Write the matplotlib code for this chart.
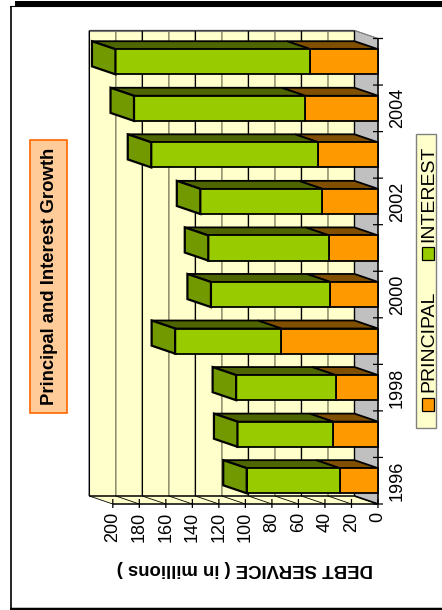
#!/usr/bin/env python
"""Debt service by year: stacked 3-D style bars, laid out sideways on the page."""

import matplotlib
matplotlib.use("Agg")
import matplotlib.pyplot as plt
from matplotlib.patches import Polygon, Rectangle

plt.rcParams["font.family"] = ["Liberation Sans", "DejaVu Sans"]

YEARS = [1996, 1997, 1998, 1999, 2000, 2001, 2002, 2003, 2004, 2005]
YEAR_LABELS = ["1996", "", "1998", "", "2000", "", "2002", "", "2004", ""]
PRINCIPAL = [29, 34, 32, 73, 36, 37, 42, 45, 55, 51]
INTEREST = [70, 72, 75, 80, 90, 91, 92, 126, 129, 147]
VALUE_TICKS = list(range(0, 201, 20))

W, H = 442, 610

# page positions of the sideways plot, in pixels
X0, PX_PER_UNIT = 378.0, 1.326
Y0, PX_PER_CAT = 504.0, 46.55
DEPTH_X, DEPTH_Y = -23.5, -8.0
BAR_WIDTH = 0.54

WALL = "#FFFFCC"
GRID = "#7F7F5F"
ORANGE, ORANGE_TOP = "#FF9900", "#805000"
GREEN, GREEN_SIDE, GREEN_TOP = "#99CC00", "#739900", "#4F6600"


def pt(value, cat, depth=0.0):
    """Page position of a value / category position / depth (0 front, 1 back)."""
    return (X0 - value * PX_PER_UNIT + depth * DEPTH_X,
            Y0 - cat * PX_PER_CAT + depth * DEPTH_Y)


def poly(ax, pts, fc="none", ec="black", lw=1.0, z=1):
    ax.add_patch(Polygon(pts, closed=True, fc=fc, ec=ec, lw=lw, zorder=z, joinstyle="miter"))


def line(ax, a, b, color="black", lw=1.0, z=2):
    ax.plot([a[0], b[0]], [a[1], b[1]], color=color, lw=lw, zorder=z,
            solid_capstyle="butt", snap=False)


fig = plt.figure(figsize=(W / 100, H / 100), dpi=100, facecolor="white")
ax = fig.add_axes([0, 0, 1, 1])
ax.set_xlim(0, W)
ax.set_ylim(H, 0)
ax.axis("off")

# page frame
ax.add_patch(Rectangle((15, 1), W - 15, 6, fc="black", ec="none", zorder=5))
line(ax, (11, 6), (11, 609), lw=1.2, z=5)
line(ax, (10, 609), (W, 609), lw=1.8, z=5)
line(ax, (10, 6.5), (W, 6.5), lw=0.8, z=5)

n = len(YEARS)
vmax = VALUE_TICKS[-1]

# back wall, floor at the value end and side wall along zero
poly(ax, [pt(0, 0, 1), pt(vmax, 0, 1), pt(vmax, n, 1), pt(0, n, 1)], fc=WALL, ec="#808080", lw=0.8)
poly(ax, [pt(0, 0, 0), pt(0, 0, 1), pt(0, n, 1), pt(0, n, 0)], fc="#C0C0C0", ec="#808080", lw=0.6)
poly(ax, [pt(0, 0, 0), pt(vmax, 0, 0), pt(vmax, 0, 1), pt(0, 0, 1)], fc=WALL, ec="none")

# gridlines on the wall and across the floor
for v in VALUE_TICKS:
    line(ax, pt(v, 0, 1), pt(v, n, 1), color=GRID if v % 40 else "black", lw=1.0)
    line(ax, pt(v, 0, 0), pt(v, 0, 1), lw=0.6)
line(ax, pt(vmax, n, 1), pt(0, n, 1), color="#404040", lw=0.9, z=3)
line(ax, pt(0, 0, 1), pt(vmax, 0, 1), lw=1.1)
line(ax, pt(0, 0, 0), pt(vmax, 0, 0), lw=1.1)
line(ax, pt(0, 0, 0), pt(0, 0, 1), lw=1.2, z=3)
line(ax, pt(0, 0, 0), pt(0, n, 0), lw=1.1, z=4)
line(ax, pt(0, n, 0), pt(0, n, 1), color="#808080", lw=0.8)

# axis ticks and labels, ticks cross the axis lines
for v in VALUE_TICKS:
    x, y = pt(v, 0)
    line(ax, (x, y - 5), (x, y + 4), lw=0.9)
    ax.text(x, y + 8, str(v), rotation=90, ha="center", va="top", fontsize=13)
for i in range(n + 1):
    x, y = pt(0, i)
    line(ax, (x - 5, y), (x + 5, y), lw=0.9, z=3)
for i, lab in enumerate(YEAR_LABELS):
    x, y = pt(0, i + 0.5)
    ax.text(x + 11, y, lab, rotation=90, ha="left", va="center", fontsize=13)

# bars, drawn segment by segment from the zero end
for i in range(n):
    lo, hi = i + 0.5 - BAR_WIDTH / 2, i + 0.5 + BAR_WIDTH / 2
    p, total = PRINCIPAL[i], PRINCIPAL[i] + INTEREST[i]
    for a, b, front, top in [(0, p, ORANGE, ORANGE_TOP), (p, total, GREEN, GREEN_TOP)]:
        poly(ax, [pt(a, hi), pt(b, hi), pt(b, hi, 1), pt(a, hi, 1)], fc=top, lw=1.3, z=6)
        poly(ax, [pt(a, lo), pt(b, lo), pt(b, hi), pt(a, hi)], fc=front, lw=1.3, z=7)
    poly(ax, [pt(total, lo), pt(total, hi), pt(total, hi, 1), pt(total, lo, 1)],
         fc=GREEN_SIDE, lw=1.6, z=7)

# value axis title, upside down below the plot
ax.text(245, 568, "DEBT SERVICE ( in millions )", rotation=180, ha="center", va="center",
        fontsize=13.4, fontweight="bold")

# title box
ax.add_patch(Rectangle((30, 139.5), 37, 273, fc="#FFCC99", ec="#FF6600", lw=1.2, zorder=3))
ax.text(50, 276, "Principal and Interest Growth", rotation=90, ha="center", va="center",
        fontsize=13.3, fontweight="bold", zorder=4)

# legend box
ax.add_patch(Rectangle((415.7, 134), 20, 294, fc=WALL, ec="#808080", lw=1.0, zorder=3))
ax.add_patch(Rectangle((421.8, 398), 12.2, 12.5, fc=ORANGE, ec="black", lw=0.9, zorder=4))
ax.text(428.5, 392, "PRINCIPAL", rotation=90, ha="center", va="bottom", fontsize=14, zorder=4)
ax.add_patch(Rectangle((421.8, 247), 12.2, 12.5, fc=GREEN, ec="black", lw=0.9, zorder=4))
ax.text(428.5, 242, "INTEREST", rotation=90, ha="center", va="bottom", fontsize=14, zorder=4)

fig.savefig("out.png", dpi=100)
